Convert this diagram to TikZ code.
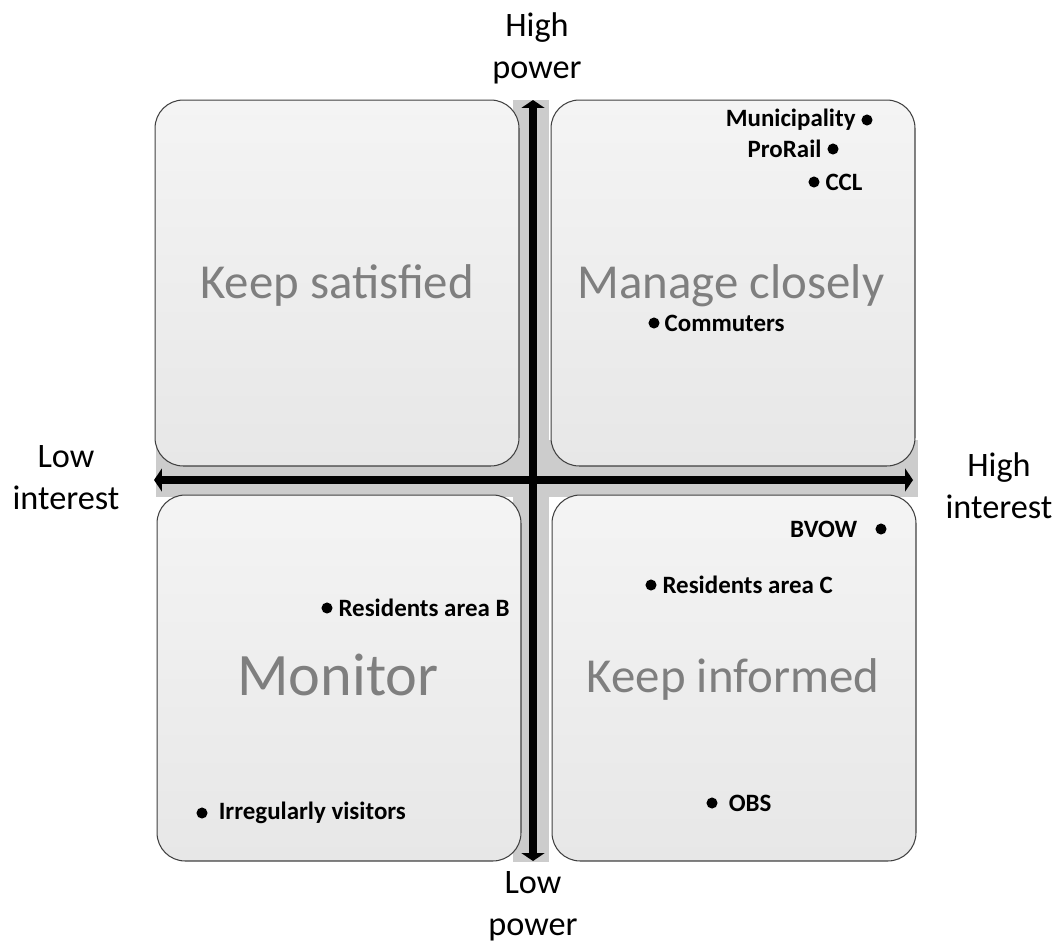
\documentclass[tikz,border=0pt]{standalone}
\usepackage{fontspec}
\setmainfont{Carlito}
\usetikzlibrary{arrows.meta,positioning}
\definecolor{bandgray}{HTML}{CCCCCC}
\definecolor{boxtop}{HTML}{F4F4F4}
\definecolor{boxbot}{HTML}{E7E7E7}
\definecolor{quadgray}{HTML}{7F7F7F}

\begin{document}
\begin{tikzpicture}[x=0.02cm, y=-0.02cm, >={Triangle[width=13pt,length=4.5pt]},
    quad/.style={draw=black!75, line width=0.6pt, rounded corners=16pt, top color=boxtop, bottom color=boxbot, minimum width=7.28cm, minimum height=7.32cm, inner sep=0pt},
    quadname/.style={anchor=base, text=quadgray, font=\fontsize{27.8}{33}\selectfont},
    dot/.style={circle, fill, inner sep=0pt, minimum size=6.3pt},
    who/.style={inner sep=0pt, font=\bfseries\fontsize{14.2}{17}\selectfont},
    axislabel/.style={align=center, font=\fontsize{19.5}{24}\selectfont}]
    \useasboundingbox (0,0) rectangle (1060,944);

    \coordinate (ptop) at (533,100);
    \coordinate (pbot) at (533,861);
    \coordinate (ileft) at (154,480);
    \coordinate (iright) at (913,480);

    % grey strips behind the axes
    \fill[bandgray] (513,100) rectangle (549,862);
    \fill[bandgray] (156,440) rectangle (918,497);

    \node[quad] (TL) at (337,283) {};
    \node[quad] (TR) at (733,283) {};
    \node[quad] (BL) at (339,678) {};
    \node[quad] (BR) at (734,678) {};

    \node[quadname] (ks) at (337,298) {Keep satisfied};
    \node[quadname] (mc) at (731,298) {Manage closely};
    \node[quadname, font=\fontsize{34.3}{40}\selectfont] (mo) at (338,695) {Monitor};
    \node[quadname] (ki) at (733,692) {Keep informed};

    \draw[<->, line width=5pt] (ptop) -- (pbot);
    \draw[<->, line width=5pt] (ileft) -- (iright);

    \node[axislabel] (hp) at (537,48) {High\\power};
    \node[axislabel] (lp) at (533,906) {Low\\power};
    \node[axislabel] (li) at (66,478) {Low\\interest};
    \node[axislabel] (hi) at (999,486) {High\\interest};

    % stakeholders
    \node[dot] (mun) at (867,120) {};
    \node[dot] (pro) at (833,149) {};
    \node[dot] (ccl) at (814,182) {};
    \node[dot] (com) at (654,323) {};
    \node[dot] (bvow) at (881,529) {};
    \node[dot] (resc) at (651,585) {};
    \node[dot] (resb) at (327,608) {};
    \node[dot] (irr) at (202,813) {};
    \node[dot] (obs) at (712,803) {};

    \node[who, left=3pt of mun] (munl) {Municipality};
    \node[who, left=3pt of pro] (prol) {ProRail};
    \node[who, right=3pt of ccl] (ccll) {CCL};
    \node[who, right=2.5pt of com] (coml) {Commuters};
    \node[who, left=10pt of bvow] (bvowl) {BVOW};
    \node[who, right=3pt of resc] (rescl) {Residents area C};
    \node[who, right=3pt of resb] (resbl) {Residents area B};
    \node[who, right=6pt of irr] (irrl) {Irregularly visitors};
    \node[who, right=6pt of obs] (obsl) {OBS};
\end{tikzpicture}
\end{document}
